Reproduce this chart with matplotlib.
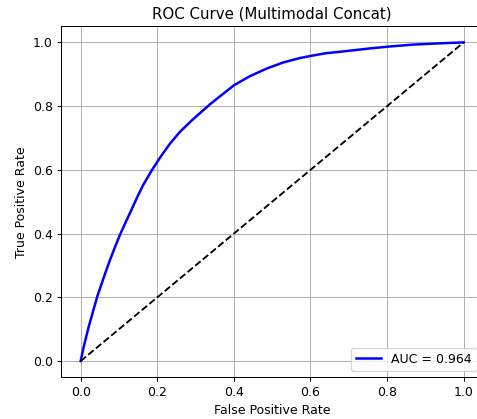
import numpy as np
import matplotlib
matplotlib.use("Agg")
import matplotlib.pyplot as plt

# ROC points
fpr = [0.0, 0.009, 0.022, 0.044, 0.062, 0.075, 0.092, 0.103, 0.118, 0.129,
       0.146, 0.163, 0.185, 0.207, 0.233, 0.259, 0.290, 0.320, 0.338, 0.364,
       0.401, 0.442, 0.486, 0.529, 0.573, 0.603, 0.640, 0.673, 0.703, 0.755,
       0.806, 0.868, 0.938, 1.000]
tpr = [0.0, 0.050, 0.112, 0.205, 0.268, 0.312, 0.365, 0.397, 0.437, 0.465,
       0.510, 0.552, 0.597, 0.638, 0.682, 0.719, 0.755, 0.787, 0.806, 0.831,
       0.866, 0.894, 0.918, 0.937, 0.951, 0.958, 0.966, 0.970, 0.974, 0.981,
       0.987, 0.993, 0.997, 1.000]
auc_value = 0.964

fig = plt.figure(figsize=(477 / 90, 419 / 90), dpi=90)
# axes run past the right edge, as in the cropped reference
ax = fig.add_axes([0.1289, 0.1002, 0.8834, 0.8367])

ax.plot(fpr, tpr, color='blue', lw=2, label=f"AUC = {auc_value:.3f}")
ax.plot([0, 1], [0, 1], 'k--', lw=1.5)

ax.set_title("ROC Curve (Multimodal Concat)", fontsize=12)
ax.set_xlabel("False Positive Rate", fontsize=10)
ax.set_ylabel("True Positive Rate", fontsize=10)
ax.tick_params(labelsize=10)
ax.grid(True)
ax.legend(loc='lower right', fontsize=10)

fig.savefig("out.png", dpi=90)
